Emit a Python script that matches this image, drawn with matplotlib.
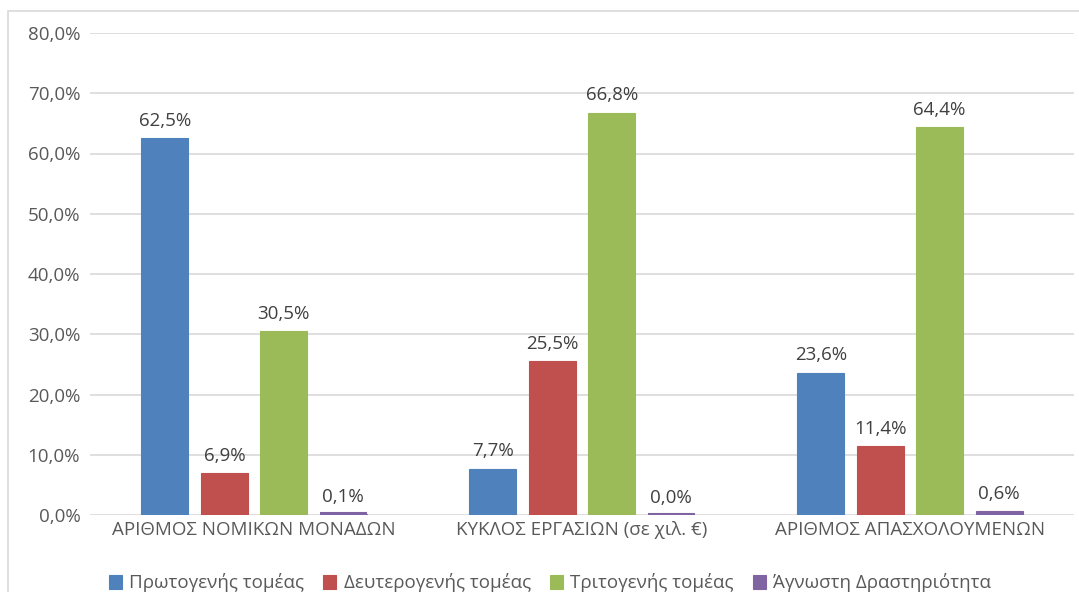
import numpy as np
import matplotlib.pyplot as plt
from matplotlib.patches import Rectangle

plt.rcParams['font.family'] = ['Open Sans', 'DejaVu Sans']

categories = ["ΑΡΙΘΜΟΣ ΝΟΜΙΚΩΝ ΜΟΝΑΔΩΝ", "ΚΥΚΛΟΣ ΕΡΓΑΣΙΩΝ (σε χιλ. €)", "ΑΡΙΘΜΟΣ ΑΠΑΣΧΟΛΟΥΜΕΝΩΝ"]
series_names = ["Πρωτογενής τομέας", "Δευτερογενής τομέας", "Τριτογενής τομέας", "Άγνωστη Δραστηριότητα"]
primary = [62.5, 7.7, 23.6]
secondary = [6.9, 25.5, 11.4]
tertiary = [30.5, 66.8, 64.4]
unknown = [0.1, 0.0, 0.6]
values = [primary, secondary, tertiary, unknown]
colors = ["#4f81bd", "#c0504d", "#9bbb59", "#8064a2"]

text_color = "#595959"
fs = 13.5
fig = plt.figure(figsize=(10.79, 5.92), dpi=100)
ax = fig.add_axes([90 / 1079, 1 - 515 / 592, 984 / 1079, 482 / 592])

x = np.arange(len(categories))
pitch = 0.181
width = 0.143
for j, (name, vals, col) in enumerate(zip(series_names, values, colors)):
    pos = x + (j - 1.5) * pitch
    ax.bar(pos, vals, width, color=col, edgecolor=col, linewidth=0.8, label=name, zorder=3)
    for p, v in zip(pos, vals):
        # Excel still shows a thin line for (near) zero bars
        if v < 0.3:
            ax.hlines(v + 0.15, p - width / 2, p + width / 2, color=col, lw=1.5, zorder=4)
        ax.text(p, v + 1.4, f"{v:.1f}%".replace(".", ","), ha="center", va="bottom",
                fontsize=fs, color="#404040")

ax.set_xlim(-0.5, 2.5)
ax.set_ylim(0, 80)
ax.set_yticks(np.arange(0, 81, 10))
ax.set_yticklabels([f"{t:.1f}%".replace(".", ",") for t in np.arange(0, 81, 10)])
ax.set_xticks(x)
ax.set_xticklabels(categories)
ax.tick_params(axis="both", length=0, labelsize=fs, colors=text_color)
ax.tick_params(axis="y", pad=7)
ax.tick_params(axis="x", pad=4)
ax.grid(axis="y", color="#d9d9d9", linewidth=1.2, zorder=0)
for s in ax.spines.values():
    s.set_visible(False)

leg = fig.legend(loc="center", bbox_to_anchor=(550 / 1079, 1 - 583 / 592), ncol=4,
                 frameon=False, fontsize=fs, handlelength=0.7, handleheight=0.7,
                 handletextpad=0.4, columnspacing=1.0)
for t in leg.get_texts():
    t.set_color(text_color)

fig.patches.append(Rectangle((8 / 1079, -0.1), 1.2, 1 - 11 / 592 + 0.1, transform=fig.transFigure,
                             fill=False, edgecolor="#d9d9d9", linewidth=1.2))

fig.savefig("out.png", dpi=100)
